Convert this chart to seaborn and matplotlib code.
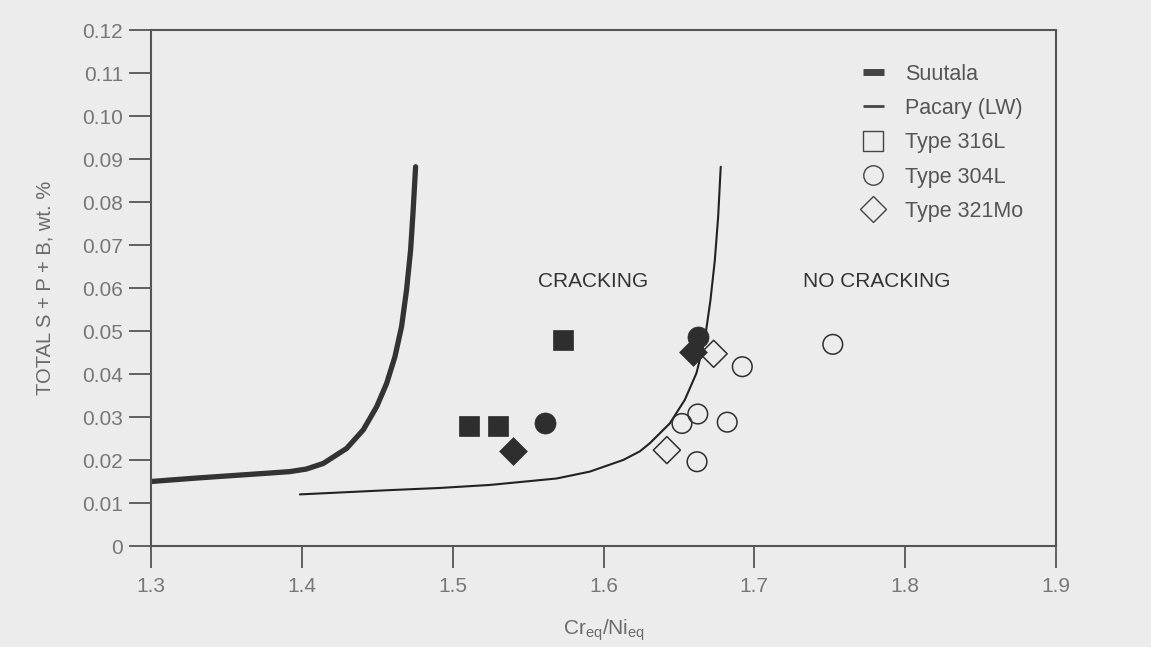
import pandas as pd
import matplotlib
matplotlib.use('Agg')
import matplotlib.pyplot as plt
from matplotlib.lines import Line2D
import seaborn as sns

# --- curvas de fronteira ---
suutala_x = [1.300, 1.330, 1.359, 1.380, 1.392, 1.403, 1.4142, 1.4297, 1.4407, 1.4496,
             1.4562, 1.4617, 1.4661, 1.4694, 1.4721, 1.4738, 1.4754]
suutala_y = [0.0150, 0.0158, 0.0165, 0.0170, 0.0173, 0.0179, 0.0192, 0.0227, 0.0270, 0.0324,
             0.0378, 0.0440, 0.0510, 0.0595, 0.0688, 0.0781, 0.0882]

pacary_x = [1.3987, 1.4584, 1.4915, 1.5247, 1.5689, 1.5909, 1.6130, 1.6240, 1.6307, 1.6439,
            1.6539, 1.6616, 1.6671, 1.6709, 1.6738, 1.6760, 1.6777]
pacary_y = [0.0120, 0.0130, 0.0135, 0.0142, 0.0157, 0.0173, 0.0200, 0.0220, 0.0239, 0.0285,
            0.0340, 0.0402, 0.0479, 0.0572, 0.0665, 0.0766, 0.0882]

# --- pontos experimentais: cheios = trincou, vazios = não trincou ---
t316_crack_x = [1.511, 1.530, 1.573]
t316_crack_y = [0.0280, 0.0280, 0.0480]
t304_crack_x = [1.561, 1.6625]
t304_crack_y = [0.0285, 0.0487]
t321_crack_x = [1.540, 1.659]
t321_crack_y = [0.0222, 0.0452]
t304_ok_x = [1.692, 1.6625, 1.652, 1.682, 1.662, 1.752]
t304_ok_y = [0.0417, 0.0307, 0.0285, 0.0288, 0.0196, 0.0469]
t321_ok_x = [1.673, 1.642]
t321_ok_y = [0.0447, 0.0223]

y_ticks = [0, 0.01, 0.02, 0.03, 0.04, 0.05, 0.06, 0.07, 0.08, 0.09, 0.10, 0.11, 0.12]
y_tick_labels = ['0', '0.01', '0.02', '0.03', '0.04', '0.05', '0.06', '0.07',
                 '0.08', '0.09', '0.10', '0.11', '0.12']
x_ticks = [1.3, 1.4, 1.5, 1.6, 1.7, 1.8, 1.9]
legend_labels = ['Suutala', 'Pacary (LW)', 'Type 316L', 'Type 304L', 'Type 321Mo']

sns.set_theme(style='white')
plt.rcParams['font.family'] = ['Liberation Sans', 'DejaVu Sans']
plt.rcParams['mathtext.default'] = 'regular'

bg = '#ececec'
ink = '#2e2e2e'
fig = plt.figure(figsize=(11.51, 6.47), dpi=100, facecolor=bg)
ax = fig.add_axes([0.1312, 0.1561, 0.7863, 0.7975], facecolor=bg)

df_suutala = pd.DataFrame({'x': suutala_x, 'y': suutala_y})
df_pacary = pd.DataFrame({'x': pacary_x, 'y': pacary_y})
sns.lineplot(data=df_suutala, x='x', y='y', sort=False, estimator=None,
             color='#333333', linewidth=3.8, ax=ax)
sns.lineplot(data=df_pacary, x='x', y='y', sort=False, estimator=None,
             color='#222222', linewidth=1.5, ax=ax)

grupos = [
    (t316_crack_x, t316_crack_y, 's', True, 220),
    (t304_crack_x, t304_crack_y, 'o', True, 230),
    (t321_crack_x, t321_crack_y, 'D', True, 200),
    (t304_ok_x, t304_ok_y, 'o', False, 200),
    (t321_ok_x, t321_ok_y, 'D', False, 190),
]
for gx, gy, mk, cheio, tam in grupos:
    d = pd.DataFrame({'x': gx, 'y': gy})
    if cheio:
        sns.scatterplot(data=d, x='x', y='y', marker=mk, s=tam, color=ink,
                        edgecolor=ink, linewidth=0.5, ax=ax, zorder=3)
    else:
        sns.scatterplot(data=d, x='x', y='y', marker=mk, s=tam, facecolor='none',
                        edgecolor=ink, linewidth=1.1, ax=ax, zorder=3)

ax.text(1.593, 0.0616, 'CRACKING', ha='center', va='center', fontsize=15, color='#333333')
ax.text(1.781, 0.0616, 'NO CRACKING', ha='center', va='center', fontsize=15, color='#333333')

ax.set_xlim(1.3, 1.9)
ax.set_ylim(0, 0.12)
ax.set_xticks(x_ticks)
ax.set_yticks(y_ticks)
ax.set_yticklabels(y_tick_labels)
ax.tick_params(axis='both', direction='out', length=16, width=1.3, color='#555555',
               labelcolor='#777777', labelsize=15, left=True, bottom=True)
ax.tick_params(axis='y', pad=4)
ax.tick_params(axis='x', pad=6)
for sp in ax.spines.values():
    sp.set_color('#555555')
    sp.set_linewidth(1.5)

ax.set_xlabel('Cr$_{eq}$/Ni$_{eq}$', fontsize=15, color='#6a6a6a', labelpad=16)
ax.set_ylabel('TOTAL S + P + B, wt. %', fontsize=14.5, color='#6a6a6a', labelpad=20)

handles = [
    Line2D([], [], color='#444444', lw=5, solid_capstyle='butt'),
    Line2D([], [], color='#444444', lw=2, solid_capstyle='butt'),
    Line2D([], [], ls='none', marker='s', ms=14, mfc='none', mec='#444444', mew=1),
    Line2D([], [], ls='none', marker='o', ms=14, mfc='none', mec='#444444', mew=1),
    Line2D([], [], ls='none', marker='D', ms=13, mfc='none', mec='#444444', mew=1),
]
leg = ax.legend(handles, legend_labels, loc='upper left', bbox_to_anchor=(0.787, 0.935),
                frameon=False, fontsize=15.5, handlelength=0.95, handletextpad=1.0,
                labelspacing=0.62, borderaxespad=0, borderpad=0)
for t in leg.get_texts():
    t.set_color('#555555')

fig.savefig('out.png', dpi=100, facecolor=bg)
plt.close('all')
